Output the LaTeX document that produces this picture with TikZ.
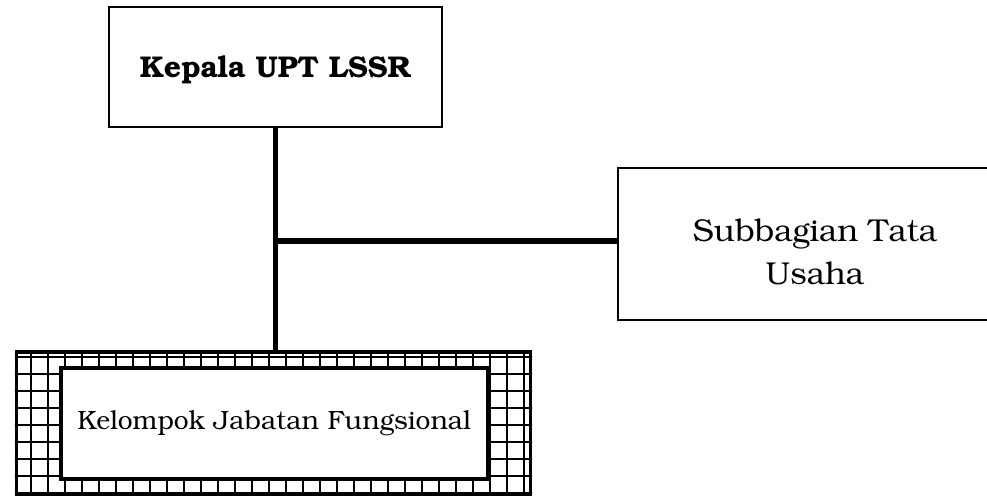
\documentclass[tikz,border=0pt]{standalone}
\usepackage[T1]{fontenc}
\usepackage{bookman}
\usetikzlibrary{positioning}

\begin{document}
\begin{tikzpicture}[x=0.5pt,y=-0.5pt,
  box/.style={draw,line width=0.6pt,inner sep=0pt},
  link/.style={line width=2.6pt}]
  \useasboundingbox (0,0) rectangle (987,496);
  \node[box,minimum width=166.5pt,minimum height=60pt,font=\bfseries\fontsize{15}{17}\selectfont] (kepala) at (275.5,67) {\rule{0pt}{14pt}Kepala UPT LSSR};
  \node[box,minimum width=197pt,minimum height=76pt,align=center,font=\fontsize{15.8}{21.5}\selectfont] (subbag) at (815,244) {\rule{0pt}{19pt}Subbagian Tata\\Usaha};
  % bingkai berkotak-kotak
  \node[draw,line width=1.6pt,minimum width=257pt,minimum height=71.25pt] (bingkai) at (273.5,423.25) {};
  \begin{scope}
    \clip (bingkai.south west) rectangle (bingkai.north east);
    \foreach \i in {0,...,29} \draw[line width=1pt] (31+17*\i,340) -- (31+17*\i,500);
    \foreach \j in {0,...,8} \draw[line width=1pt] (0,357+17*\j) -- (540,357+17*\j);
  \end{scope}
  \node[draw,fill=white,line width=2pt,minimum width=213.25pt,minimum height=55.75pt,font=\fontsize{13.2}{15}\selectfont] (jafung) at (274.25,423.75) {Kelompok Jabatan Fungsional};
  \coordinate (cabang) at (kepala.south |- 0,241);
  \draw[link] (kepala.south) -- (kepala.south |- bingkai.north);
  \draw[link] (cabang) -- (cabang -| subbag.west);
\end{tikzpicture}
\end{document}
